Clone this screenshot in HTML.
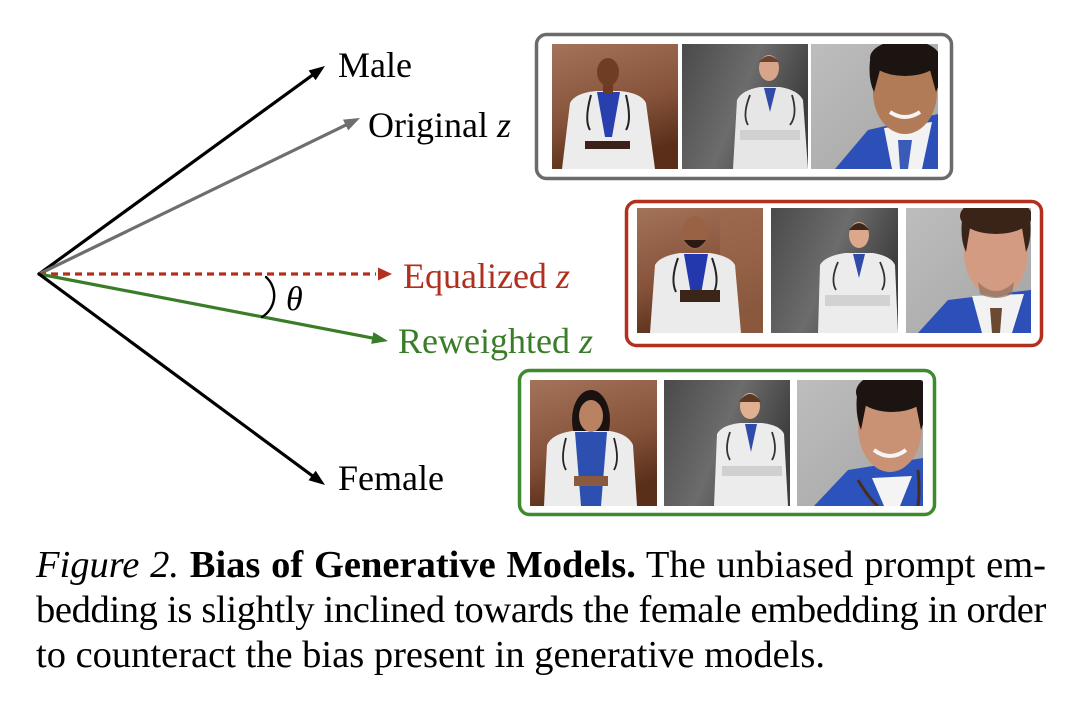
<!DOCTYPE html>
<html>
<head>
<meta charset="utf-8">
<style>
  html,body{margin:0;padding:0;background:#fff;}
  body{width:1080px;height:702px;position:relative;overflow:hidden;}
  svg{position:absolute;left:0;top:0;}
  .cap{position:absolute;left:36px;width:1010px;font-family:"Liberation Serif","Times New Roman",serif;font-size:38.5px;line-height:45px;color:#000;white-space:normal;text-align:justify;}
  .j{text-align-last:justify;}
</style>
</head>
<body>
<svg width="1080" height="702" viewBox="0 0 1080 702" xmlns="http://www.w3.org/2000/svg">
  <defs>
    <linearGradient id="brown" x1="0" y1="0" x2="0.3" y2="1">
      <stop offset="0" stop-color="#a3735a"/>
      <stop offset="0.6" stop-color="#86533a"/>
      <stop offset="1" stop-color="#5a2f1a"/>
    </linearGradient>
    <linearGradient id="dark" x1="0" y1="0" x2="1" y2="0.4">
      <stop offset="0" stop-color="#4a4a4a"/>
      <stop offset="0.55" stop-color="#6c6c6c"/>
      <stop offset="1" stop-color="#3e3e3e"/>
    </linearGradient>
    <linearGradient id="light" x1="0" y1="0" x2="1" y2="1">
      <stop offset="0" stop-color="#bdbdbd"/>
      <stop offset="1" stop-color="#a5a5a5"/>
    </linearGradient>
    <clipPath id="g1"><rect x="552" y="44" width="126" height="125"/></clipPath>
    <clipPath id="g2"><rect x="682" y="44" width="126" height="125"/></clipPath>
    <clipPath id="g3"><rect x="811" y="44" width="127" height="125"/></clipPath>
    <clipPath id="r1"><rect x="637" y="208" width="126" height="125"/></clipPath>
    <clipPath id="r2"><rect x="771" y="208" width="127" height="125"/></clipPath>
    <clipPath id="r3"><rect x="906" y="208" width="125" height="125"/></clipPath>
    <clipPath id="n1"><rect x="530" y="380" width="127" height="126"/></clipPath>
    <clipPath id="n2"><rect x="664" y="380" width="126" height="126"/></clipPath>
    <clipPath id="n3"><rect x="797" y="380" width="126" height="126"/></clipPath>
  </defs>

  <!-- Vectors -->
  <g stroke-linecap="round">
    <line x1="39" y1="274" x2="314" y2="74" stroke="#000" stroke-width="3.2"/>
    <polygon points="325,66 315.6,80.3 308.6,70.5" fill="#000"/>
    <line x1="39" y1="274" x2="348" y2="124" stroke="#6e6e6e" stroke-width="3.2"/>
    <polygon points="360,118 348.2,130.4 343,119.6" fill="#6e6e6e"/>
    <line x1="39" y1="274" x2="376" y2="274" stroke="#b3301f" stroke-width="3.2" stroke-dasharray="7,5" stroke-linecap="butt"/>
    <polygon points="392,274 378,267.5 378,280.5" fill="#b3301f"/>
    <line x1="39" y1="274" x2="374" y2="338.3" stroke="#3a7d28" stroke-width="3.2"/>
    <polygon points="388,341 371.2,343.9 373.4,332.1" fill="#3a7d28"/>
    <line x1="39" y1="274" x2="314" y2="477" stroke="#000" stroke-width="3.2"/>
    <polygon points="325,485 308.5,480.3 315.7,470.7" fill="#000"/>
    <path d="M266,277 A25,25 0 0 1 262,317" fill="none" stroke="#000" stroke-width="2.4"/>
  </g>
  <text x="286" y="310" font-family="Liberation Serif, serif" font-style="italic" font-size="34">θ</text>

  <g font-family="Liberation Serif, Times New Roman, serif" font-size="36">
    <text x="338" y="77" fill="#000">Male</text>
    <text x="368" y="137" fill="#000">Original <tspan font-style="italic">z</tspan></text>
    <text x="403" y="288" fill="#b0301f">Equalized <tspan font-style="italic">z</tspan></text>
    <text x="398" y="353" fill="#3a7d28">Reweighted <tspan font-style="italic">z</tspan></text>
    <text x="338" y="490" fill="#000">Female</text>
  </g>

  <!-- Boxes -->
  <rect x="536.5" y="34.5" width="415" height="144" rx="10" fill="#fff" stroke="#6b6b6b" stroke-width="3.5"/>
  <rect x="626.5" y="201.5" width="415" height="144" rx="10" fill="#fff" stroke="#b3301f" stroke-width="3.5"/>
  <rect x="519.5" y="370.5" width="415" height="144" rx="10" fill="#fff" stroke="#3f8a2f" stroke-width="3.5"/>

  <!-- Gray box images -->
  <g clip-path="url(#g1)">
    <rect x="552" y="44" width="126" height="125" fill="url(#brown)"/>
    <path d="M570,103 Q575,93 596,91 L620,91 Q641,93 646,103 L655,169 L562,169 Z" fill="#ececec"/>
    <polygon points="597,92 620,92 612,137 605,137" fill="#2a3fae"/>
    <rect x="603" y="84" width="10" height="9" fill="#6b3b22"/>
    <ellipse cx="608" cy="72" rx="11" ry="14" fill="#6e3d24"/>
    <path d="M591,95 Q584,120 590,130 M626,95 Q632,120 626,130" stroke="#222" stroke-width="2" fill="none"/>
    <rect x="585" y="141" width="45" height="8" fill="#3a2218"/>
  </g>
  <g clip-path="url(#g2)">
    <rect x="682" y="44" width="126" height="125" fill="url(#dark)"/>
    <path d="M737,100 Q742,90 760,87 L780,87 Q798,90 803,100 L808,169 L733,169 Z" fill="#e6e6e6"/>
    <polygon points="764,88 776,88 770,112" fill="#2f4aa8"/>
    <ellipse cx="769" cy="68" rx="10" ry="13" fill="#d9a58a"/>
    <path d="M759,62 Q769,50 779,62 Z" fill="#6a4330"/>
    <rect x="740" y="130" width="60" height="10" fill="#d0d0d0"/>
    <path d="M750,95 Q742,115 748,125 M792,95 Q798,115 790,125" stroke="#333" stroke-width="1.8" fill="none"/>
  </g>
  <g clip-path="url(#g3)">
    <rect x="811" y="44" width="127" height="125" fill="url(#light)"/>
    <polygon points="835,169 868,130 938,114 938,169" fill="#2c50b8"/>
    <polygon points="884,128 932,122 922,169 892,169" fill="#f2f2f2"/>
    <polygon points="898,140 912,140 908,169 900,169" fill="#3a5bb8"/>
    <ellipse cx="905" cy="92" rx="32" ry="42" fill="#b27b58"/>
    <ellipse cx="905" cy="58" rx="35" ry="18" fill="#1c1410"/>
    <path d="M870,60 Q868,80 874,92 L880,70 Z M940,60 Q942,80 936,92 L930,70 Z" fill="#1c1410"/>
    <path d="M890,112 Q905,122 920,112" stroke="#f5f5f5" stroke-width="4" fill="none"/>
  </g>

  <!-- Red box images -->
  <g clip-path="url(#r1)">
    <rect x="637" y="208" width="126" height="125" fill="url(#brown)"/>
    <rect x="720" y="208" width="43" height="125" fill="#9c6a4d" opacity="0.7"/>
    <path d="M655,265 Q660,256 680,253 L710,253 Q730,256 735,265 L741,333 L650,333 Z" fill="#ebebeb"/>
    <polygon points="684,254 708,254 700,300 692,300" fill="#2438ad"/>
    <ellipse cx="695" cy="233" rx="13" ry="17" fill="#9a6245"/>
    <path d="M684,240 Q695,256 706,240 Z" fill="#2a1a12"/>
    <path d="M678,258 Q670,280 676,292 M712,258 Q720,280 714,292" stroke="#222" stroke-width="2" fill="none"/>
    <rect x="680" y="290" width="40" height="12" fill="#3b2418"/>
  </g>
  <g clip-path="url(#r2)">
    <rect x="771" y="208" width="127" height="125" fill="url(#dark)"/>
    <path d="M820,265 Q825,256 845,253 L873,253 Q891,256 895,265 L898,333 L818,333 Z" fill="#ececec"/>
    <polygon points="853,254 865,254 859,278" fill="#2f4aa8"/>
    <ellipse cx="859" cy="235" rx="10" ry="13" fill="#dca88c"/>
    <path d="M849,230 Q859,216 869,230 Z" fill="#3b271c"/>
    <rect x="825" y="295" width="65" height="11" fill="#d2d2d2"/>
    <path d="M838,262 Q830,280 836,290 M880,262 Q888,280 882,290" stroke="#333" stroke-width="1.8" fill="none"/>
  </g>
  <g clip-path="url(#r3)">
    <rect x="906" y="208" width="125" height="125" fill="url(#light)"/>
    <polygon points="918,333 948,300 1031,290 1031,333" fill="#2c4fb8"/>
    <polygon points="972,296 1024,294 1012,333 982,333" fill="#f2f2f2"/>
    <polygon points="990,308 1002,308 1000,333 992,333" fill="#6a4a32"/>
    <ellipse cx="996" cy="252" rx="32" ry="45" fill="#d39c82"/>
    <ellipse cx="996" cy="216" rx="36" ry="18" fill="#3a2418"/>
    <path d="M962,220 Q960,240 966,252 L970,228 Z M1030,220 Q1032,240 1026,252 L1022,228 Z" fill="#3a2418"/>
    <path d="M978,282 Q996,300 1014,282 L1012,294 Q996,302 980,294 Z" fill="#8b7060" opacity="0.7"/>
  </g>

  <!-- Green box images -->
  <g clip-path="url(#n1)">
    <rect x="530" y="380" width="127" height="126" fill="url(#brown)"/>
    <ellipse cx="591" cy="420" rx="19" ry="30" fill="#1a1210"/>
    <path d="M547,445 Q552,434 572,431 L610,431 Q628,434 633,445 L637,506 L544,506 Z" fill="#ececec"/>
    <polygon points="575,432 607,432 601,506 581,506" fill="#2d4fb0"/>
    <ellipse cx="591" cy="416" rx="12" ry="16" fill="#b98262"/>
    <path d="M566,438 Q560,460 566,470 M614,438 Q620,460 614,470" stroke="#222" stroke-width="1.8" fill="none"/>
    <rect x="574" y="476" width="34" height="10" fill="#8a5a40"/>
  </g>
  <g clip-path="url(#n2)">
    <rect x="664" y="380" width="126" height="126" fill="url(#dark)"/>
    <path d="M717,434 Q722,425 740,423 L762,423 Q780,425 784,434 L788,506 L714,506 Z" fill="#ececec"/>
    <polygon points="745,424 757,424 751,452" fill="#2f4aa8"/>
    <ellipse cx="750" cy="406" rx="10" ry="13" fill="#e0b090"/>
    <path d="M739,402 Q750,386 761,402 Z" fill="#5a3a26"/>
    <rect x="722" y="466" width="60" height="10" fill="#d0d0d0"/>
    <path d="M730,432 Q724,450 730,460 M772,432 Q778,450 772,460" stroke="#333" stroke-width="1.8" fill="none"/>
  </g>
  <g clip-path="url(#n3)">
    <rect x="797" y="380" width="126" height="126" fill="url(#light)"/>
    <polygon points="814,506 848,470 923,458 923,506" fill="#2c52bc"/>
    <polygon points="872,478 912,476 900,506 884,506" fill="#f4f4f4"/>
    <path d="M858,480 Q870,500 878,506 M918,470 Q920,490 918,506" stroke="#4a2c1c" stroke-width="3" fill="none"/>
    <ellipse cx="890" cy="427" rx="32" ry="45" fill="#c99274"/>
    <ellipse cx="892" cy="392" rx="36" ry="20" fill="#1c1410"/>
    <path d="M857,395 Q855,415 861,430 L866,405 Z M925,395 Q927,415 921,430 L916,405 Z" fill="#1c1410"/>
    <path d="M874,450 Q890,462 906,450" stroke="#f5f5f5" stroke-width="4" fill="none"/>
  </g>
</svg>

<div class="cap j" style="top:543px;word-spacing:-1px;"><i>Figure 2.</i> <b>Bias of Generative Models.</b> The unbiased prompt em-</div>
<div class="cap j" style="top:588px;letter-spacing:-0.35px;word-spacing:-0.5px;">bedding is slightly inclined towards the female embedding in order</div>
<div class="cap" style="top:633px;">to counteract the bias present in generative models.</div>
</body>
</html>
